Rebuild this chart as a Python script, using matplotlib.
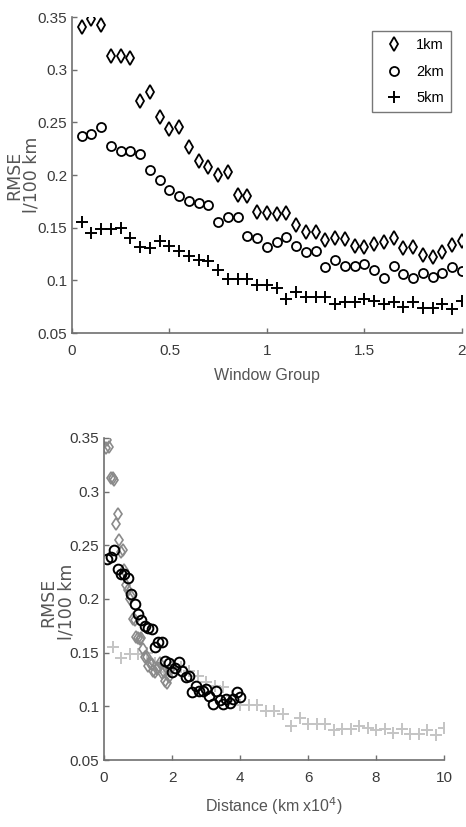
import numpy as np
import matplotlib
matplotlib.use('Agg')
import matplotlib.pyplot as plt

plt.rcParams['font.family'] = ['Liberation Sans Narrow', 'DejaVu Sans Condensed',
                               'Liberation Sans', 'DejaVu Sans']

window = np.arange(1, 41) * 0.05

rmse_1km = [0.341, 0.348, 0.342, 0.313, 0.313, 0.311, 0.270, 0.279, 0.255, 0.244,
            0.246, 0.227, 0.213, 0.208, 0.200, 0.203, 0.181, 0.180, 0.165, 0.164,
            0.163, 0.164, 0.153, 0.146, 0.146, 0.138, 0.140, 0.139, 0.133, 0.132,
            0.135, 0.136, 0.140, 0.131, 0.132, 0.124, 0.122, 0.127, 0.134, 0.137]
rmse_2km = [0.237, 0.239, 0.246, 0.228, 0.223, 0.223, 0.220, 0.205, 0.195, 0.186,
            0.180, 0.175, 0.173, 0.172, 0.155, 0.160, 0.160, 0.142, 0.140, 0.132,
            0.136, 0.141, 0.133, 0.127, 0.128, 0.113, 0.119, 0.114, 0.114, 0.116,
            0.110, 0.102, 0.114, 0.106, 0.102, 0.107, 0.103, 0.107, 0.113, 0.109]
rmse_5km = [0.155, 0.145, 0.149, 0.149, 0.150, 0.140, 0.132, 0.131, 0.137, 0.133,
            0.128, 0.123, 0.119, 0.118, 0.110, 0.101, 0.101, 0.101, 0.096, 0.096,
            0.093, 0.082, 0.089, 0.084, 0.084, 0.084, 0.078, 0.079, 0.079, 0.082,
            0.080, 0.078, 0.079, 0.075, 0.079, 0.074, 0.074, 0.078, 0.073, 0.080]

labels = ['1km', '2km', '5km']
km = [1, 2, 5]

label_col = '#3a3a3a'
spine_col = '#707070'

fig = plt.figure(figsize=(4.66, 8.27), dpi=100)
ax1 = fig.add_axes([0.1545, 0.5973, 0.8369, 0.3821])
ax2 = fig.add_axes([0.2232, 0.0810, 0.7296, 0.3894])


def style(ax):
    for s in ['top', 'right']:
        ax.spines[s].set_visible(False)
    for s in ['left', 'bottom']:
        ax.spines[s].set_color(spine_col)
        ax.spines[s].set_linewidth(1.2)
    ax.tick_params(direction='in', length=3.5, width=1, color=spine_col,
                   labelsize=11, labelcolor=label_col)
    ax.tick_params(axis='x', pad=8)
    ax.set_ylim(0.05, 0.35)
    ax.set_yticks([0.05, 0.1, 0.15, 0.2, 0.25, 0.3, 0.35])
    ax.set_yticklabels(['0.05', '0.1', '0.15', '0.2', '0.25', '0.3', '0.35'])
    ax.set_ylabel('RMSE\nl/100 km', family='DejaVu Sans', fontsize=12.5,
                  color='#555555', linespacing=1.0)


# top: vs window group
ax1.plot(window, rmse_1km, 'd', ms=7, mfc='none', mec='black', mew=1.3, label=labels[0])
ax1.plot(window, rmse_2km, 'o', ms=6.5, mfc='none', mec='black', mew=1.3, label=labels[1])
ax1.plot(window, rmse_5km, '+', ms=8, mec='black', mew=1.4, label=labels[2])
style(ax1)
ax1.set_xlim(0, 2)
ax1.set_xticks([0, 0.5, 1, 1.5, 2])
ax1.set_xticklabels(['0', '0.5', '1', '1.5', '2'])
ax1.set_xlabel('Window Group', fontsize=11.5, color='#555555', labelpad=7)
ax1.yaxis.set_label_coords(-0.08, 0.5)
leg = ax1.legend(loc='upper right', bbox_to_anchor=(0.972, 0.956), borderaxespad=0,
                 fontsize=10.5, frameon=True, fancybox=False, edgecolor='#555555',
                 handlelength=2.0, handletextpad=0.5, borderpad=0.5,
                 labelspacing=0.85)
leg.get_frame().set_linewidth(1.0)

# bottom: vs distance
ax2.plot(window * km[2], rmse_5km, '+', ms=8, mec='#c4c4c4', mew=1.4)
ax2.plot(window * km[0], rmse_1km, 'd', ms=6, mfc='none', mec='#8a8a8a', mew=1.2)
ax2.plot(window * km[1], rmse_2km, 'o', ms=7, mfc='none', mec='black', mew=1.4)
style(ax2)
ax2.set_xlim(0, 10)
ax2.set_xticks([0, 2, 4, 6, 8, 10])
ax2.set_xlabel('Distance (km x10$^4$)', fontsize=11.5, color='#555555', labelpad=7)
ax2.yaxis.set_label_coords(-0.085, 0.49)

fig.savefig('out.png', dpi=100)
